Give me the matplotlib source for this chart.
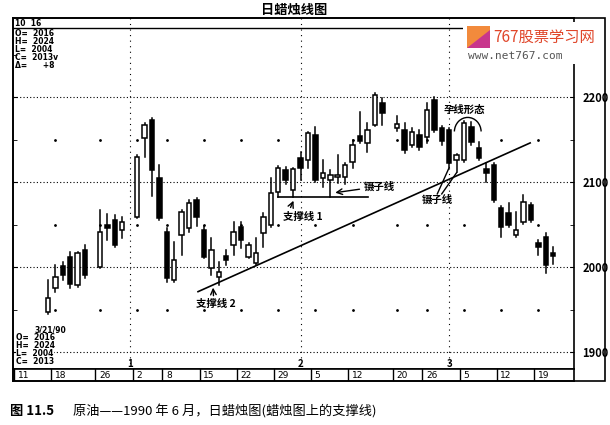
import matplotlib.pyplot as plt
import matplotlib.patches as mpatches
import pandas as pd

plt.rcParams['font.family'] = ['Noto Sans CJK SC', 'DejaVu Sans']

# 原油日线 1989-12-15 ~ 1990-03-21
opens = [1947, 1975, 2001, 2012, 1979, 2020, 2000, 2049, 2055, 2044,
         2059, 2152, 2173, 2105, 2041, 1985, 2038, 2046, 2079, 2044,
         1999, 1988, 2013, 2026, 2047, 2012, 2005, 2040, 2049, 2088,
         2114, 2091, 2128, 2126, 2155, 2105, 2102, 2106, 2106, 2124,
         2154, 2146, 2167, 2193, 2164, 2161, 2144, 2155, 2153, 2196,
         2164, 2161, 2126, 2126, 2165, 2140, 2115, 2120, 2069, 2064,
         2038, 2053, 2073, 2028, 2035, 2016]
highs = [1985, 2002, 2006, 2018, 2018, 2026, 2067, 2062, 2061, 2059,
         2132, 2169, 2175, 2120, 2046, 2029, 2067, 2079, 2081, 2048,
         2034, 2006, 2020, 2053, 2053, 2028, 2034, 2064, 2105, 2119,
         2118, 2116, 2135, 2159, 2165, 2126, 2114, 2132, 2122, 2149,
         2182, 2169, 2205, 2199, 2178, 2169, 2164, 2161, 2193, 2200,
         2166, 2164, 2133, 2172, 2171, 2147, 2122, 2122, 2072, 2075,
         2065, 2085, 2075, 2032, 2040, 2024]
lows = [1945, 1971, 1985, 1975, 1976, 1987, 1999, 2032, 2024, 2034,
        2058, 2129, 2084, 2055, 1982, 1982, 2014, 2041, 2048, 2011,
        1991, 1979, 2002, 2014, 2022, 2011, 2002, 2024, 2047, 2082,
        2098, 2082, 2102, 2116, 2100, 2094, 2082, 2099, 2098, 2116,
        2146, 2135, 2166, 2167, 2160, 2134, 2141, 2138, 2146, 2159,
        2144, 2118, 2112, 2124, 2144, 2126, 2100, 2076, 2035, 2047,
        2035, 2051, 2053, 2014, 1993, 2004]
closes = [1964, 1988, 1991, 1980, 2016, 1991, 2041, 2046, 2026, 2053,
          2129, 2167, 2114, 2058, 1987, 2008, 2065, 2075, 2059, 2012,
          2020, 1994, 2008, 2041, 2032, 2026, 2016, 2059, 2087, 2116,
          2102, 2115, 2116, 2158, 2102, 2111, 2108, 2108, 2120, 2144,
          2148, 2161, 2202, 2181, 2168, 2138, 2159, 2141, 2185, 2161,
          2148, 2122, 2132, 2169, 2147, 2128, 2111, 2079, 2047, 2049,
          2044, 2076, 2055, 2024, 2002, 2013]

holidays = ['1989-12-25', '1990-01-01', '1990-02-19']
week_starts = ['1989-12-11', '1989-12-18', '1989-12-26', '1990-01-02', '1990-01-08',
               '1990-01-15', '1990-01-22', '1990-01-29', '1990-02-05', '1990-02-12',
               '1990-02-20', '1990-02-26', '1990-03-05', '1990-03-12', '1990-03-19']
week_labels = ['11', '18', '26', '2', '8', '15', '22', '29', '5', '12', '20', '26', '5', '12', '19']
month_starts = ['1990-01-01', '1990-02-01', '1990-03-01']
month_labels = ['1', '2', '3']
price_levels = [1900, 2000, 2100, 2200]

# 横轴：工作日序号（节假日留空位）
days = pd.bdate_range('1989-12-11', '1990-03-23')
pos = {d.strftime('%Y-%m-%d'): i for i, d in enumerate(days)}
trade_x = [i for i, d in enumerate(days)
           if '1989-12-15' <= d.strftime('%Y-%m-%d') <= '1990-03-21'
           and d.strftime('%Y-%m-%d') not in holidays]

fig = plt.figure(figsize=(6.1, 4.25), dpi=100)


def fx(px):
    return px / 610


def fy(py):
    return 1 - py / 425


ax = fig.add_axes([fx(13), fy(369), fx(574) - fx(13), fy(18) - fy(369)])
ax.set_xlim(-0.7, 74.8)
ax.set_ylim(1880, 2293)
for s in ax.spines.values():
    s.set_linewidth(1.2)

# 网格：价位虚线、月份分隔虚线、小点
for lv in price_levels:
    ax.axhline(lv, color='k', lw=0.8, ls=(0, (1, 2)), zorder=1)
for m in month_starts:
    ax.axvline(pos[m], color='k', lw=0.8, ls=(0, (1, 4)), zorder=1)
for w in week_starts[1:]:
    ax.scatter([pos[w]] * 3, [1950, 2050, 2150], s=1, color='k', zorder=1)
ax.axhline(2281, color='k', lw=1)

# 蜡烛
for xi, o, h, l, c in zip(trade_x, opens, highs, lows, closes):
    lo, hi = min(o, c), max(o, c)
    ax.plot([xi, xi], [l, lo], color='k', lw=1.1, zorder=3)
    ax.plot([xi, xi], [hi, h], color='k', lw=1.1, zorder=3)
    ax.add_patch(mpatches.Rectangle((xi - 0.3, lo), 0.6, max(hi - lo, 1.5),
                                    facecolor='white' if c >= o else 'black',
                                    edgecolor='black', lw=1.1, zorder=4))

ax.set_xticks([])
ax.yaxis.tick_right()
ax.set_yticks(price_levels)
ax.set_yticks([1950, 2050, 2150, 2250], minor=True)
ax.tick_params(axis='y', which='both', direction='in', length=3, left=True, right=True,
               labelleft=False, labelright=True, labelsize=8, pad=6)
for t in ax.get_yticklabels():
    t.set_fontweight('bold')

# 支撑线与标注
ax.plot([24.2, 68.9], [1971, 2146], color='k', lw=1.2, zorder=5)
ax.text(26.6, 1956, '支撑线 2', fontsize=7.5, fontweight='bold', ha='center', va='center')
ax.annotate('', xy=(26.2, 1979), xytext=(26.3, 1963),
            arrowprops=dict(arrowstyle='->', lw=1, color='k'))

ax.plot([35, 47.1], [2082, 2082], color='k', lw=1.2, zorder=5)
ax.text(35.6, 2059, '支撑线 1', fontsize=7.5, fontweight='bold', ha='left', va='center')
ax.annotate('', xy=(37.2, 2081), xytext=(36.5, 2067),
            arrowprops=dict(arrowstyle='->', lw=1, color='k'))

ax.text(46.5, 2094, '镊子线', fontsize=7.5, fontweight='bold', ha='left', va='center')
ax.annotate('', xy=(42.3, 2087), xytext=(46.3, 2092),
            arrowprops=dict(arrowstyle='->', lw=1, color='k'))

ax.text(54.3, 2079, '镊子线', fontsize=7.5, fontweight='bold', ha='left', va='center')
ax.plot([56.4, 58.0], [2086, 2117], color='k', lw=1)
ax.plot([57.0, 59.0], [2086, 2111], color='k', lw=1)

ax.text(60.1, 2185, '孕线形态', fontsize=7.5, fontweight='bold', ha='center', va='center')
ax.add_patch(mpatches.Arc((60.5, 2159), 3.6, 34, theta1=15, theta2=165, lw=1, color='k'))

for m, lab in zip(month_starts, month_labels):
    ax.text(pos[m], 1886, lab, fontsize=7, fontweight='bold', ha='center', va='center')

# 左侧数据框
info_top = ['10  16', 'O=  2016', 'H=  2024', 'L=  2004', 'C=  2013v', 'Δ=      +8']
info_y = [23, 33, 41, 49, 57, 65]
for t, py in zip(info_top, info_y):
    fig.text(fx(15), fy(py), t, fontsize=5.5, fontweight='bold', va='center', family='DejaVu Sans')
info_bot = ['3/21/90', 'O=  2016', 'H=  2024', 'L=  2004', 'C=  2013']
info_bx = [35, 16, 16, 16, 16]
info_by = [330, 338, 346, 354, 362]
for t, px, py in zip(info_bot, info_bx, info_by):
    fig.text(fx(px), fy(py), t, fontsize=5.5, fontweight='bold', va='center', family='DejaVu Sans',
             bbox=dict(facecolor='white', edgecolor='none', pad=0.2))

# 日期栏
axd = fig.add_axes([fx(13), fy(381), fx(574) - fx(13), fy(369) - fy(381)])
axd.set_xlim(-0.7, 74.8)
axd.set_ylim(0, 1)
axd.set_xticks([])
axd.set_yticks([])
for s in axd.spines.values():
    s.set_linewidth(1.2)
for w, lab in zip(week_starts, week_labels):
    axd.axvline(pos[w] - 0.6, color='k', lw=1)
    axd.text(pos[w] - 0.1, 0.45, lab, fontsize=6.5, ha='left', va='center', family='DejaVu Sans')

# 外框
fig.add_artist(mpatches.Rectangle((fx(13), fy(381)), fx(605) - fx(13), fy(18) - fy(381),
                                  transform=fig.transFigure, fill=False, lw=1.2, ec='k'))

# 水印
fig.add_artist(mpatches.Rectangle((fx(463), fy(64)), fx(604) - fx(463), fy(22) - fy(64),
                                  transform=fig.transFigure, facecolor='white', edgecolor='none', zorder=10))
fig.add_artist(mpatches.Rectangle((fx(467), fy(48)), fx(490) - fx(467), fy(26) - fy(48),
                                  transform=fig.transFigure, facecolor='#f28a3c', edgecolor='none', zorder=11))
fig.add_artist(mpatches.Polygon([(fx(467), fy(48)), (fx(490), fy(48)), (fx(490), fy(30))],
                                transform=fig.transFigure, facecolor='#c8368c', edgecolor='none', zorder=12))
fig.text(fx(493), fy(37), '767股票学习网', fontsize=11, color='#e0462a', va='center', ha='left', zorder=13)
fig.text(fx(468), fy(56), 'www.net767.com', fontsize=8, color='#555555', va='center', ha='left',
         family='DejaVu Sans Mono', zorder=13)

# 标题与图注
fig.text(fx(294), fy(10), '日蜡烛线图', fontsize=9.5, fontweight='bold', ha='center', va='center')
fig.text(fx(10), fy(411), '图 11.5', fontsize=9.5, fontweight='bold', ha='left', va='center')
fig.text(fx(73), fy(411), '原油——1990 年 6 月，日蜡烛图(蜡烛图上的支撑线)', fontsize=9.5,
         ha='left', va='center')

fig.savefig('out.png', dpi=100)
